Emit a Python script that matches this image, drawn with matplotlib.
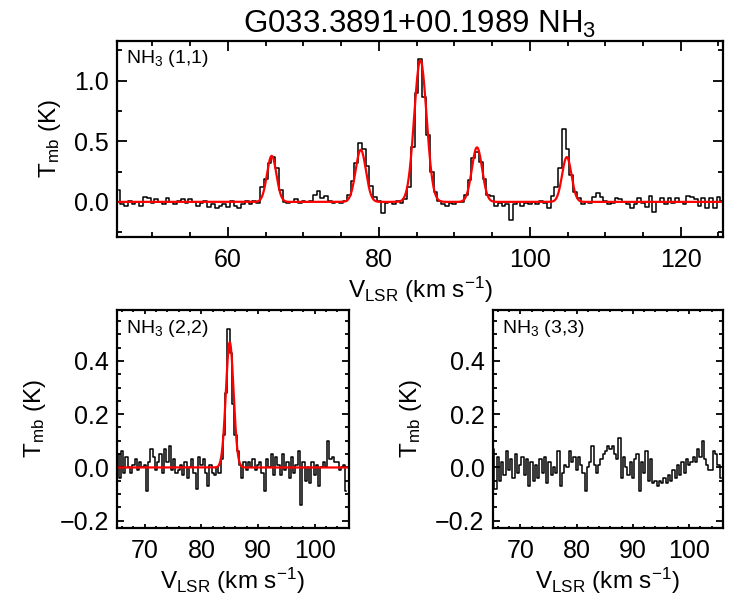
import numpy as np
import matplotlib
matplotlib.use("Agg")
import matplotlib.pyplot as plt
from matplotlib.ticker import MultipleLocator, FuncFormatter

plt.rcParams['font.family'] = ['Liberation Sans', 'DejaVu Sans']
plt.rcParams['mathtext.fontset'] = 'custom'
plt.rcParams['mathtext.rm'] = 'Liberation Sans'
plt.rcParams['mathtext.it'] = 'Liberation Sans:italic'

# NH3 (1,1) spectrum, 0.5 km/s channels starting at 45.5 km/s
v11 = np.arange(45.5, 125.51, 0.5)
t11 = [
    0.10, -0.02, -0.03, 0.01, -0.02, 0.00, -0.03, 0.04, 0.03, -0.01,    # 45.5
    0.02, 0.00, -0.02, 0.03, 0.00, -0.02, 0.01, 0.02, -0.01, 0.02,      # 50.5
    0.00, -0.03, -0.01, 0.01, -0.04, -0.02, -0.05, -0.03, -0.02, -0.04, # 55.5
    0.01, -0.03, -0.05, -0.02, 0.01, -0.02, 0.01, -0.01, 0.12, 0.19,    # 60.5
    0.32, 0.37, 0.28, 0.10, 0.00, -0.01, 0.00, 0.02, -0.01, 0.01,       # 65.5
    0.00, 0.01, 0.06, 0.09, 0.03, 0.05, 0.01, -0.01, 0.00, -0.01,       # 70.5
    0.01, 0.06, 0.17, 0.32, 0.49, 0.44, 0.30, 0.13, 0.04, 0.01,         # 75.5
    -0.09, -0.01, 0.00, -0.02, 0.01, -0.01, 0.02, 0.12, 0.45, 0.90,     # 80.5
    1.18, 0.87, 0.55, 0.25, 0.08, 0.01, -0.02, -0.03, -0.01, -0.02,     # 85.5
    0.00, 0.00, 0.06, 0.18, 0.36, 0.41, 0.33, 0.19, 0.06, 0.05,         # 90.5
    -0.03, -0.01, -0.03, -0.02, -0.15, -0.02, 0.00, -0.03, -0.01, -0.02, # 95.5
    0.00, -0.02, 0.01, -0.01, -0.05, 0.05, 0.12, 0.28, 0.60, 0.44,      # 100.5
    0.22, 0.08, 0.03, -0.02, 0.00, -0.01, 0.04, 0.07, 0.04, 0.01,       # 105.5
    -0.02, -0.01, 0.03, 0.02, 0.00, -0.02, -0.05, -0.02, 0.03, -0.01,   # 110.5
    -0.04, 0.05, -0.08, 0.00, 0.03, -0.02, 0.03, -0.01, 0.03, 0.00,     # 115.5
    -0.02, 0.05, 0.04, 0.02, -0.03, 0.03, -0.05, 0.03, -0.05, 0.04,     # 120.5
    0.01,                                                               # 125.5
]

# NH3 (2,2) and (3,3) spectra, 0.4 km/s channels starting at 65.2 km/s
v22 = np.arange(65.2, 105.61, 0.4)
t22 = [
    0.05, -0.04, 0.06, -0.02, 0.04, 0.00, -0.02, 0.01, 0.03, -0.01,
    0.02, 0.00, 0.01, -0.09, 0.02, 0.07, 0.04, -0.01, 0.02, 0.05,
    -0.02, 0.07, 0.02, 0.08, -0.01, 0.03, -0.02, -0.01, 0.01, -0.03,
    0.02, -0.04, 0.00, 0.03, -0.02, -0.08, 0.04, 0.01, 0.03, -0.02,
    -0.07, 0.01, -0.02, -0.03, 0.00, -0.02, 0.03, 0.12, 0.28, 0.52,
    0.43, 0.24, 0.12, 0.06, 0.01, -0.04, 0.02, -0.01, 0.02, 0.00,
    0.03, -0.01, 0.01, 0.02, -0.02, -0.09, 0.03, 0.00, 0.05, -0.03,
    0.04, 0.01, -0.03, 0.05, -0.01, 0.02, -0.04, 0.04, -0.02, 0.01,
    0.06, -0.14, 0.02, -0.05, 0.00, -0.06, 0.02, -0.03, 0.01, -0.07,
    0.00, 0.02, 0.00, 0.10, 0.03, 0.04, 0.02, 0.02, -0.01, 0.00,
    0.01, -0.09,
]
t33 = [
    0.07, -0.08, 0.04, -0.05, 0.02, -0.03, 0.06, -0.01, 0.03, -0.04,
    0.05, -0.02, 0.01, 0.04, -0.03, 0.03, -0.07, 0.02, -0.05, 0.01,
    -0.04, 0.03, -0.02, 0.04, -0.06, 0.02, -0.03, 0.00, -0.02, 0.06,
    -0.07, -0.02, 0.01, 0.00, 0.06, 0.02, 0.04, -0.01, 0.04, 0.01,
    -0.02, -0.09, 0.00, 0.02, 0.08, 0.01, -0.02, 0.01, 0.03, 0.05,
    0.06, 0.08, 0.07, 0.08, 0.05, 0.03, 0.11, -0.04, 0.04, 0.00,
    -0.03, 0.02, -0.04, 0.03, 0.05, -0.09, 0.02, -0.02, 0.06, -0.05,
    0.03, -0.06, -0.05, -0.07, -0.05, -0.06, -0.04, -0.06, -0.03, -0.05,
    -0.01, -0.04, 0.01, -0.03, 0.02, -0.02, 0.03, 0.01, 0.02, 0.04,
    0.02, 0.07, 0.04, 0.10, 0.03, 0.01, -0.01, -0.01, 0.06, 0.05,
    0.01, -0.04,
]

# gaussian fit components (red curves)
fit11_center = [65.8, 77.6, 85.5, 93.0, 104.9]
fit11_amp = [0.38, 0.43, 1.17, 0.45, 0.37]
fit11_sigma = [0.62, 0.68, 0.82, 0.68, 0.62]
fit22_center = [85.0]
fit22_amp = [0.47]
fit22_sigma = [0.68]


def fit_curve(x, centers, amps, sigmas):
    y = np.zeros_like(x)
    for c, a, s in zip(centers, amps, sigmas):
        y += a * np.exp(-0.5 * ((x - c) / s) ** 2)
    return y


def minus_fmt(val, pos):
    s = '%.1f' % (val + 0.0)
    if s == '-0.0':
        s = '0.0'
    return s.replace('-', '\u2212')


def style_axes(ax, xmaj, xmin, ymaj, ymin, xlen, ylen):
    ax.xaxis.set_major_locator(MultipleLocator(xmaj))
    ax.xaxis.set_minor_locator(MultipleLocator(xmin))
    ax.yaxis.set_major_locator(MultipleLocator(ymaj))
    ax.yaxis.set_minor_locator(MultipleLocator(ymin))
    ax.yaxis.set_major_formatter(FuncFormatter(minus_fmt))
    ax.tick_params(which='both', direction='in', top=True, right=True,
                   width=1.3, labelsize=18)
    ax.tick_params(axis='x', which='major', length=xlen, pad=8)
    ax.tick_params(axis='x', which='minor', length=xlen * 0.5)
    ax.tick_params(axis='y', which='major', length=ylen, pad=6)
    ax.tick_params(axis='y', which='minor', length=ylen * 0.55)
    for sp in ax.spines.values():
        sp.set_linewidth(1.6)
    ax.set_xlabel(r'V$_{\rm LSR}$ (km s$^{-1}$)', fontsize=17.5, labelpad=2)
    ax.set_ylabel(r'T$_{\rm mb}$ (K)', fontsize=17.5, labelpad=8)


fig = plt.figure(figsize=(7.5, 6), dpi=100)

ax1 = fig.add_axes([0.156, 0.605, 0.808, 0.327])
ax1.step(v11, t11, where='mid', color='black', lw=1.1)
xf = np.linspace(45.3, 125.6, 1200)
ax1.plot(xf, fit_curve(xf, fit11_center, fit11_amp, fit11_sigma), color='red', lw=1.6)
ax1.set_xlim(45.3, 125.6)
ax1.set_ylim(-0.29, 1.33)
style_axes(ax1, 20, 5, 0.5, 0.25, 7, 7)
ax1.text(0.015, 0.965, r'NH$_3$ (1,1)', transform=ax1.transAxes, fontsize=14, va='top')
ax1.set_title(r'G033.3891+00.1989 NH$_3$', fontsize=22.5, pad=6)

ax2 = fig.add_axes([0.156, 0.12, 0.309, 0.363])
ax2.step(v22, t22, where='mid', color='black', lw=1.1)
xf2 = np.linspace(65.1, 106.0, 600)
ax2.plot(xf2, fit_curve(xf2, fit22_center, fit22_amp, fit22_sigma), color='red', lw=1.6)
ax2.set_xlim(65.1, 106.0)
ax2.set_ylim(-0.227, 0.59)
style_axes(ax2, 10, 2, 0.2, 0.05, 3, 5)
ax2.text(0.04, 0.965, r'NH$_3$ (2,2)', transform=ax2.transAxes, fontsize=14, va='top')

ax3 = fig.add_axes([0.657, 0.12, 0.307, 0.363])
ax3.step(v22, t33, where='mid', color='black', lw=1.1)
ax3.set_xlim(65.1, 106.0)
ax3.set_ylim(-0.227, 0.59)
style_axes(ax3, 10, 2, 0.2, 0.05, 3, 5)
ax3.text(0.04, 0.965, r'NH$_3$ (3,3)', transform=ax3.transAxes, fontsize=14, va='top')

fig.savefig('out.png', dpi=100)
